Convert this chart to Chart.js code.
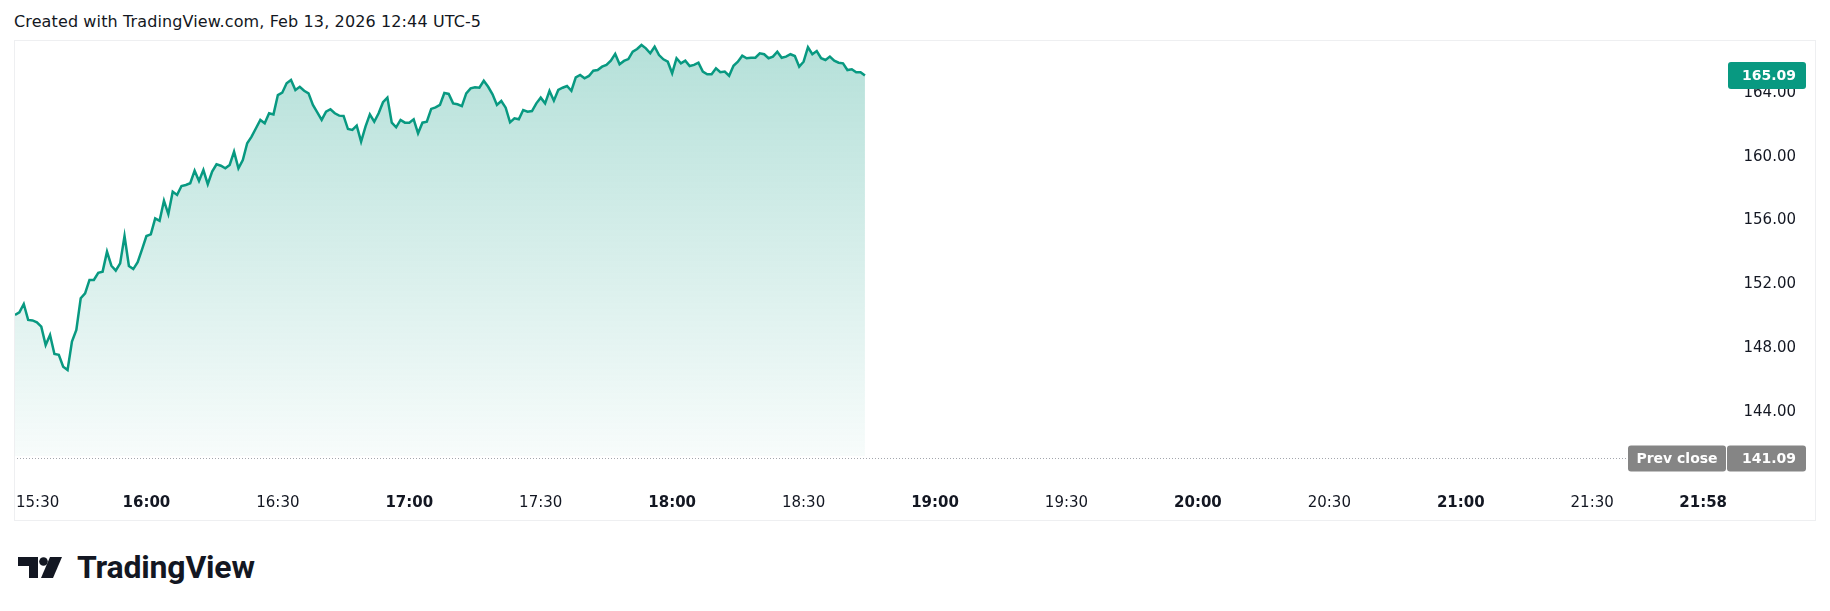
<!DOCTYPE html>
<html>
<head>
<meta charset="utf-8">
<title>TradingView snapshot</title>
<script src="https://cdn.jsdelivr.net/npm/chart.js@4.4.1/dist/chart.umd.min.js"></script>
<style>
  html, body { margin: 0; padding: 0; background: #fff; }
  body { width: 1830px; height: 611px; position: relative; overflow: hidden; font-family: "DejaVu Sans", sans-serif; }
  .caption { position: absolute; left: 14px; top: 12px; font-size: 16px; line-height: 20px; letter-spacing: 0.12px; color: #131722; white-space: nowrap; }
  .pane { position: absolute; left: 14px; top: 40px; width: 1802px; height: 481px; box-sizing: border-box; border: 1px solid #eeeff1; }
  .chart-box { position: absolute; left: 15px; top: 41px; width: 1800px; height: 479px; }
  .logo { position: absolute; left: 18px; top: 551px; height: 32px; display: flex; align-items: center; }
  .logo span { font-family: Roboto, sans-serif; font-weight: 700; font-size: 32px; color: #131722; margin-left: 15px; letter-spacing: -0.2px; }
</style>
</head>
<body>
<div class="caption">Created with TradingView.com, Feb 13, 2026 12:44 UTC-5</div>
<div class="pane"></div>
<div class="chart-box"><canvas id="chart" width="1800" height="479"></canvas></div>
<div class="logo">
  <svg width="44" height="21" viewBox="0 0 44 21">
    <path d="M0 0H20V21H11V9H0Z" fill="#131722"/>
    <circle cx="25.5" cy="4.5" r="4.3" fill="#131722"/>
    <path d="M32 0H44L35 21H23Z" fill="#131722"/>
  </svg>
  <span>TradingView</span>
</div>
<script>
// one-minute closes from the session open
const sessionStart = '15:30';
const prices = [
  150.08, 150.25, 150.77, 149.77, 149.74, 149.62, 149.35, 148.20, 148.83, 147.64,
  147.58, 146.84, 146.63, 148.41, 149.14, 151.13, 151.44, 152.28, 152.28, 152.73,
  152.80, 154.05, 153.17, 152.86, 153.32, 155.03, 153.15, 152.96, 153.39, 154.20,
  155.03, 155.14, 156.14, 155.99, 157.25, 156.41, 157.81, 157.61, 158.17, 158.23,
  158.34, 159.13, 158.48, 159.17, 158.28, 159.07, 159.53, 159.44, 159.28, 159.49,
  160.32, 159.28, 159.80, 160.85, 161.26, 161.79, 162.31, 162.10, 162.73, 162.66,
  163.87, 164.02, 164.61, 164.82, 164.19, 164.39, 164.14, 163.98, 163.25, 162.79,
  162.31, 162.83, 162.98, 162.73, 162.58, 162.56, 161.74, 161.68, 161.95, 160.95,
  161.89, 162.66, 162.20, 162.73, 163.42, 163.71, 162.14, 161.85, 162.31, 162.14,
  162.14, 162.35, 161.47, 162.14, 162.20, 163.00, 163.10, 163.25, 164.00, 163.94,
  163.35, 163.29, 163.18, 163.98, 164.29, 164.36, 164.33, 164.77, 164.39, 163.92,
  163.25, 163.50, 163.08, 162.16, 162.41, 162.35, 162.93, 162.83, 162.87, 163.35,
  163.71, 163.35, 164.13, 163.52, 164.19, 164.33, 164.44, 164.14, 164.98, 165.13,
  164.92, 165.07, 165.40, 165.44, 165.65, 165.76, 166.03, 166.45, 165.80, 166.01,
  166.13, 166.59, 166.76, 167.01, 166.80, 166.49, 166.90, 166.38, 166.11, 165.96,
  165.24, 166.18, 165.86, 166.03, 165.69, 165.76, 165.90, 165.34, 165.17, 165.17,
  165.55, 165.30, 165.34, 165.08, 165.71, 165.96, 166.34, 166.18, 166.21, 166.21,
  166.49, 166.43, 166.18, 166.28, 166.59, 166.21, 166.28, 166.43, 166.32, 165.65,
  165.96, 166.87, 166.43, 166.63, 166.18, 166.07, 166.28, 166.03, 165.90, 165.86,
  165.44, 165.49, 165.30, 165.30, 165.09
];
const lastPrice = 165.09;
const prevClose = 141.09;
const priceTicks = [144, 148, 152, 156, 160, 164];
const timeTicks = ['15:30', '16:00', '16:30', '17:00', '17:30', '18:00', '18:30',
  '19:00', '19:30', '20:00', '20:30', '21:00', '21:30', '21:58'];

const GREEN = '#089981';
const TEXT = '#131722';
const FONT = '"DejaVu Sans", sans-serif';

const toMin = (s) => { const [h, m] = s.split(':').map(Number); return h * 60 + m; };
const startMin = toMin(sessionStart);
const points = prices.map((p, i) => ({ x: startMin + i, y: p }));

function drawBox(ctx, x, y, w, h, r, color) {
  ctx.fillStyle = color;
  ctx.beginPath();
  ctx.roundRect(x, y, w, h, r);
  ctx.fill();
}

const overlay = {
  id: 'tvOverlay',
  afterDraw(chart) {
    const { ctx, chartArea: area, scales: { x, y } } = chart;
    ctx.save();

    // time axis labels, kept inside the pane
    ctx.textBaseline = 'middle';
    ctx.textAlign = 'center';
    ctx.fillStyle = TEXT;
    timeTicks.forEach((t, i) => {
      const bold = t.endsWith(':00') || i === timeTicks.length - 1;
      ctx.font = `${bold ? 'bold ' : ''}15px ${FONT}`;
      const w = ctx.measureText(t).width;
      let px = x.getPixelForValue(toMin(t));
      px = Math.max(area.left + 1 + w / 2, Math.min(area.right - 1 - w / 2, px));
      ctx.fillText(t, px, area.bottom + 47);
    });

    // previous close: dotted line + label
    const yPrev = y.getPixelForValue(prevClose);
    const axisRight = y.right + 10;
    ctx.strokeStyle = '#a3a6ad';
    ctx.lineWidth = 1;
    ctx.setLineDash([1, 2]);
    ctx.beginPath();
    ctx.moveTo(area.left - 1, Math.round(yPrev) + 0.5);
    ctx.lineTo(area.right - 100, Math.round(yPrev) + 0.5);
    ctx.stroke();
    ctx.setLineDash([]);
    drawBox(ctx, area.right - 100, yPrev - 13, 98, 26, 3, '#858585');
    drawBox(ctx, area.right - 1, yPrev - 13, axisRight - area.right + 1, 26, 3, '#858585');
    ctx.fillStyle = '#fff';
    ctx.font = `bold 14px ${FONT}`;
    ctx.textAlign = 'center';
    ctx.fillText('Prev close', area.right - 51, yPrev + 1);
    ctx.textAlign = 'right';
    ctx.fillText(prevClose.toFixed(2), y.right, yPrev + 1);

    // last price label
    const yLast = y.getPixelForValue(lastPrice);
    drawBox(ctx, area.right, yLast - 13.5, axisRight - area.right, 27, 3, GREEN);
    ctx.fillStyle = '#fff';
    ctx.fillText(lastPrice.toFixed(2), y.right, yLast + 1);
    ctx.restore();
  }
};

new Chart(document.getElementById('chart'), {
  type: 'line',
  data: {
    datasets: [{
      data: points,
      borderColor: GREEN,
      borderWidth: 2.5,
      pointRadius: 0,
      tension: 0,
      fill: 'start',
      backgroundColor: (c) => {
        const a = c.chart.chartArea;
        if (!a) return 'rgba(8,153,129,0.2)';
        const g = c.chart.ctx.createLinearGradient(0, a.top, 0, a.bottom);
        g.addColorStop(0, 'rgba(8,153,129,0.30)');
        g.addColorStop(1, 'rgba(8,153,129,0.03)');
        return g;
      }
    }]
  },
  options: {
    responsive: false,
    animation: false,
    devicePixelRatio: 1,
    layout: { padding: { left: 0, top: 0, right: 19, bottom: 0 } },
    plugins: { legend: { display: false }, tooltip: { enabled: false } },
    scales: {
      x: {
        type: 'linear',
        min: startMin,
        max: toMin('22:01'),
        grid: { display: false },
        border: { display: false },
        ticks: { display: false },
        afterFit: (s) => { s.height = 64; s.paddingLeft = 0; s.paddingRight = 0; }
      },
      y: {
        position: 'right',
        min: 141.24,
        max: 167.26,
        grid: { display: false },
        border: { display: false },
        afterBuildTicks: (s) => { s.ticks = priceTicks.map(v => ({ value: v })); },
        ticks: {
          crossAlign: 'far',
          padding: 0,
          color: TEXT,
          font: { family: FONT, size: 15 },
          callback: (v) => Number(v).toFixed(2)
        },
        afterFit: (s) => { s.width = 68; s.paddingTop = 0; s.paddingBottom = 0; }
      }
    }
  },
  plugins: [overlay]
});
</script>
</body>
</html>
